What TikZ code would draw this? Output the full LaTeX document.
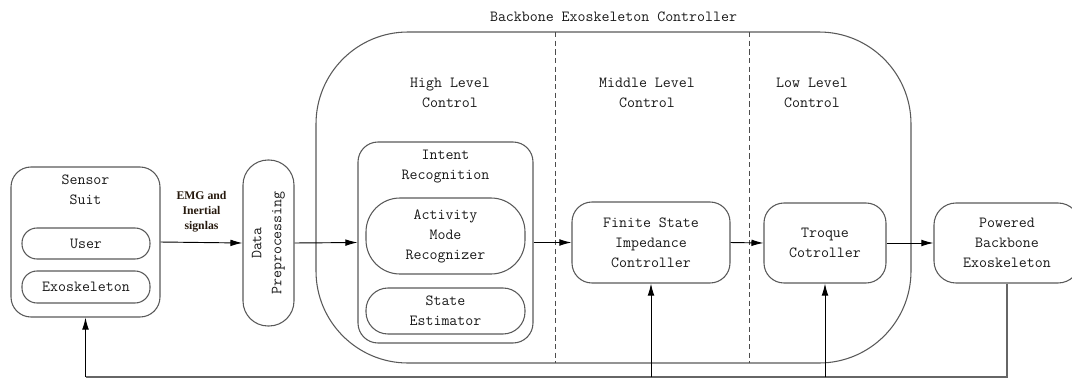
\documentclass[tikz,border=0pt]{standalone}
\usepackage{fontspec}
\setmonofont{Latin Modern Mono}
\newfontfamily\labelfont{Liberation Serif}
\usepackage{tikz}
\usetikzlibrary{arrows.meta}
\newcommand{\pxl}{0.75pt}

\begin{document}
\begin{tikzpicture}[x=\pxl,y=-\pxl,
	every node/.style={font=\ttfamily\fontsize{11.6}{15}\selectfont, text=black!90, align=center},
	blk/.style={draw=black!65, thick, inner sep=0pt},
	arr/.style={-{Latex[length=9pt,width=5pt]}, black, line width=0.7pt},
	fbline/.style={draw=black!60, thick}]
	\useasboundingbox (0,0) rectangle (1072,379);

	% controller frame with its three levels
	\node[blk, rounded corners=92*\pxl, minimum width=595*\pxl, minimum height=331*\pxl,
		label={[yshift=4pt]above:Backbone Exoskeleton Controller}] (ctrl) at (613.5,197.5) {};
	\draw[dash pattern=on 4pt off 2.5pt, black!70] (555,32) -- (555,363);
	\draw[dash pattern=on 4pt off 2.5pt, black!70] (749,32) -- (749,363);
	\node (high) at (450,93) {High Level\\Control};
	\node (mid) at (647,93) {Middle Level\\Control};
	\node (low) at (812,93) {Low Level\\Control};

	% sensor suit
	\node[blk, rounded corners=20*\pxl, minimum width=149*\pxl, minimum height=150*\pxl,
		label={[below=3pt]north:Sensor\\Suit}] (sensor) at (85.5,242) {};
	\node[blk, rounded corners=15*\pxl, minimum width=128*\pxl, minimum height=31*\pxl] (user) at (86,243.5) {User};
	\node[blk, rounded corners=15*\pxl, minimum width=128*\pxl, minimum height=32*\pxl] (exo) at (86,287) {Exoskeleton};

	\node[blk, rounded corners=25*\pxl, minimum width=51*\pxl, minimum height=166*\pxl] (data) at (268.5,243) {};
	\node[rotate=90] at (data.center) {Data\\Preprocessing};

	% high level
	\node[blk, rounded corners=20*\pxl, minimum width=175*\pxl, minimum height=201*\pxl,
		label={[below=3pt]north:Intent\\Recognition}] (intent) at (445.5,242.5) {};
	\node[blk, rounded corners=34*\pxl, minimum width=159*\pxl, minimum height=76*\pxl] (amr) at (445.5,236) {Activity\\Mode\\Recognizer};
	\node[blk, rounded corners=22*\pxl, minimum width=159*\pxl, minimum height=46*\pxl] (est) at (445.5,311) {State\\Estimator};

	% middle and low level, plant
	\node[blk, rounded corners=20*\pxl, minimum width=158*\pxl, minimum height=81*\pxl] (fsm) at (651,242.5) {Finite State\\Impedance\\Controller};
	\node[blk, rounded corners=20*\pxl, minimum width=122*\pxl, minimum height=80*\pxl] (trq) at (825,243) {Troque\\Cotroller};
	\node[blk, rounded corners=22*\pxl, minimum width=146*\pxl, minimum height=80*\pxl] (pow) at (1007,243) {Powered\\Backbone\\Exoskeleton};

	% forward path
	\draw[arr] (sensor.east) -- node[above=4pt, font=\labelfont\bfseries\fontsize{8.8}{11.5}\selectfont, text=black!80!brown]
		{EMG and\\Inertial\\signlas} (data.west);
	\draw[arr] (data.east) -- (intent.west);
	\draw[arr] (intent.east) -- (fsm.west);
	\draw[arr] (fsm.east) -- (trq.west);
	\draw[arr] (trq.east) -- (pow.west);

	% feedback
	\coordinate (fb) at (1007,377);
	\draw[fbline] (pow.south) -- (fb) -- (fb -| sensor.south);
	\draw[arr] (fb -| sensor.south) -- (sensor.south);
	\draw[arr] (fb -| fsm.south) -- (fsm.south);
	\draw[arr] (fb -| trq.south) -- (trq.south);
\end{tikzpicture}
\end{document}
